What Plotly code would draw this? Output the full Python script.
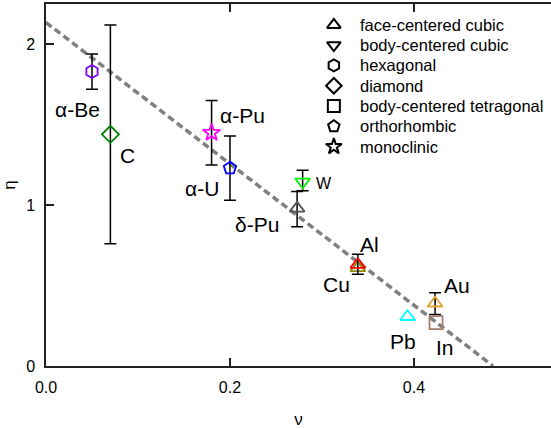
import plotly.graph_objects as go

# ---- data ----
names = ["α-Be", "C", "α-Pu", "α-U", "δ-Pu", "W", "Cu", "Al", "Au", "Pb", "In"]
nu = [0.050, 0.070, 0.180, 0.200, 0.273, 0.279, 0.339, 0.339, 0.423, 0.393, 0.424]
eta = [1.83, 1.44, 1.45, 1.23, 0.98, 1.145, 0.61, 0.63, 0.39, 0.306, 0.269]
err_plus = [0.11, 0.68, 0.20, 0.20, 0.105, 0.072, 0.0, 0.064, 0.065, 0.0, 0.0]
err_minus = [0.11, 0.68, 0.20, 0.20, 0.115, 0.056, 0.0, 0.06, 0.07, 0.0, 0.0]
structure = ["hexagonal", "diamond", "monoclinic", "orthorhombic", "face-centered cubic",
             "body-centered cubic", "face-centered cubic", "face-centered cubic",
             "face-centered cubic", "face-centered cubic", "body-centered tetragonal"]

legend_names = ["face-centered cubic", "body-centered cubic", "hexagonal", "diamond",
                "body-centered tetragonal", "orthorhombic", "monoclinic"]

fit_nu = [0.0, 0.486]
fit_eta = [2.135, 0.0]

# ---- styles ----
symbols = {"face-centered cubic": "triangle-up-open", "body-centered cubic": "triangle-down-open",
           "hexagonal": "hexagon-open", "diamond": "diamond-open",
           "body-centered tetragonal": "square-open", "orthorhombic": "pentagon-open",
           "monoclinic": "star-open"}
colors = {"α-Be": "#8000ff", "C": "#008000", "α-Pu": "#ff00ff", "α-U": "#0000ff",
          "δ-Pu": "#555555", "W": "#00ee00", "Cu": "#8b8b00", "Al": "#ff0000",
          "Au": "#e6a030", "Pb": "#00ffff", "In": "#a47e6e"}
# label offsets in pixels (dx right, dy down) and font sizes
label_off = {"α-Be": (-14, 38), "C": (17, 21), "α-Pu": (31, -17), "α-U": (-28, 20),
             "δ-Pu": (-40, 16), "W": (21, 2), "Cu": (-21, 17), "Al": (12, -20),
             "Au": (22, -18), "Pb": (-5, 25), "In": (9, 25)}
label_size = {"W": 16}
LABEL_FONT_SIZE = 21

FONT = "Arial, Liberation Sans, sans-serif"

# legend layout (key column placed on an invisible overlay axis, rows ~20.3 px apart)
LEG_KEY_X = 0.570      # fraction of plot width
LEG_TEXT_X = 0.618
LEG_ROW_RANGE = [16.82, -1.03]   # reversed category range -> row spacing

fig = go.Figure()

fig.add_trace(go.Scatter(x=fit_nu, y=fit_eta, mode="lines",
                         line=dict(color="#808080", width=3.5, dash="7px,4px"),
                         showlegend=False, hoverinfo="skip"))

for i, n in enumerate(names):
    has_err = err_plus[i] > 0 or err_minus[i] > 0
    fig.add_trace(go.Scatter(
        x=[nu[i]], y=[eta[i]], mode="markers", showlegend=False,
        marker=dict(symbol=symbols[structure[i]], size=13, color=colors[n],
                    line=dict(width=1.8, color=colors[n])),
        error_y=dict(type="data", symmetric=False, array=[err_plus[i]],
                     arrayminus=[err_minus[i]], visible=has_err,
                     color="black", thickness=1.5, width=6),
    ))
    dx, dy = label_off[n]
    fig.add_annotation(x=nu[i], y=eta[i], xref="x", yref="y", text=n, showarrow=False,
                       xshift=dx, yshift=-dy,
                       font=dict(family=FONT, size=label_size.get(n, LABEL_FONT_SIZE),
                                 color="black"))

# legend keys
fig.add_trace(go.Scatter(
    x=[LEG_KEY_X] * len(legend_names), y=legend_names, mode="markers",
    xaxis="x3", yaxis="y3", showlegend=False, hoverinfo="skip",
    marker=dict(symbol=[symbols[ln] for ln in legend_names], size=12, color="black",
                line=dict(width=2, color="black"))))
for ln in legend_names:
    fig.add_annotation(x=LEG_TEXT_X, y=ln, xref="x3", yref="y3", text=ln, showarrow=False,
                       xanchor="left", yanchor="middle",
                       font=dict(family=FONT, size=16.5, color="black"))

axis_common = dict(showline=True, linecolor="#222222", linewidth=1.5, ticks="inside",
                   ticklen=8, tickwidth=1.5, tickcolor="#222222", showgrid=False,
                   zeroline=False, tickfont=dict(family=FONT, size=16, color="black"))

fig.update_layout(
    width=551, height=429,
    margin=dict(l=46, r=0, t=4, b=63),
    paper_bgcolor="white", plot_bgcolor="white",
    font=dict(family=FONT, color="black"),
    xaxis=dict(range=[0, 0.549], dtick=0.2, tickformat=".1f", mirror="ticks",
               title=dict(text="ν", font=dict(family=FONT, size=17), standoff=19),
               ticklabelstandoff=6, **axis_common),
    yaxis=dict(range=[0, 2.25], dtick=1, mirror=False,
               title=dict(text="η", font=dict(family=FONT, size=17), standoff=10),
               ticklabelstandoff=6, **axis_common),
    yaxis2=dict(overlaying="y", side="right", range=[0, 2.25], dtick=1, showline=False,
                ticks="inside", ticklen=8, tickwidth=1.5, tickcolor="#222222",
                showticklabels=False, showgrid=False, zeroline=False),
    xaxis3=dict(overlaying="x", anchor="y3", range=[0, 1], visible=False,
                showgrid=False, zeroline=False),
    yaxis3=dict(overlaying="y", anchor="x3", type="category",
                categoryorder="array", categoryarray=legend_names,
                range=LEG_ROW_RANGE, visible=False, showgrid=False, zeroline=False),
    showlegend=False,
)

fig.write_html("out.html")
